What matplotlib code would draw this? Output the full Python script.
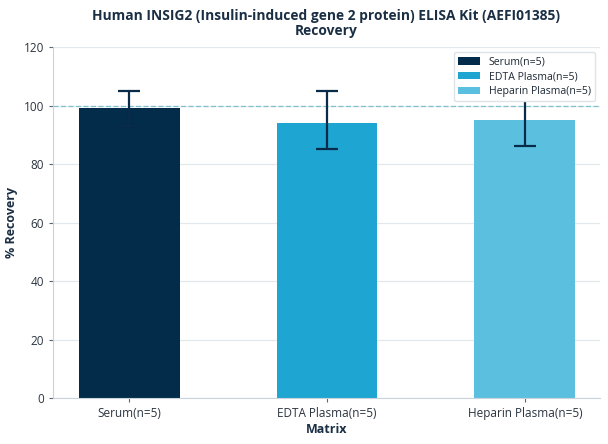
import numpy as np
import matplotlib.pyplot as plt

plt.rcParams['font.family'] = ['Open Sans', 'Noto Sans', 'DejaVu Sans']

matrices = ['Serum(n=5)', 'EDTA Plasma(n=5)', 'Heparin Plasma(n=5)']
recovery = [99, 94, 95]
err_low = [6, 9, 9]
err_high = [6, 11, 9]
colors = ['#022c4a', '#1fa5d2', '#5bc0e0']

fig = plt.figure(figsize=(6.08, 4.44), dpi=100)
ax = fig.add_axes([0.087, 0.1036, 0.9, 0.7904])

x = np.arange(len(matrices))
ax.set_axisbelow(True)
ax.yaxis.grid(True, color='#e3e8ec', linewidth=0.9)
ax.bar(x, recovery, width=0.51, color=colors, label=matrices, zorder=2)
ax.errorbar(x, recovery, yerr=[err_low, err_high], fmt='none', ecolor='#072b48',
            elinewidth=1.6, capsize=8, capthick=1.6, zorder=3)
ax.axhline(100, color='#7fc0cf', linestyle='--', linewidth=0.9, dashes=(4, 2), zorder=1)

ax.set_xlim(-0.385, 2.38)
ax.set_ylim(0, 120)
ax.set_yticks(range(0, 121, 20))
ax.set_xticks(x)
ax.set_xticklabels(matrices)
for s in ['top', 'right']:
    ax.spines[s].set_visible(False)
for s in ['left', 'bottom']:
    ax.spines[s].set_color('#c9d3db')
ax.tick_params(colors='#5a6570', labelcolor='#2b3440', labelsize=8.5, length=3)

ax.set_xlabel('Matrix', fontsize=9, fontweight='bold', color='#1a2e44', labelpad=2)
ax.set_ylabel('% Recovery', fontsize=9, fontweight='bold', color='#1a2e44')
ax.set_title('Human INSIG2 (Insulin-induced gene 2 protein) ELISA Kit (AEFI01385)\nRecovery',
             fontsize=9.9, fontweight='bold', color='#1a2e44', pad=9, linespacing=1.05)

leg = ax.legend(loc='upper right', fontsize=7.6, frameon=True, handlelength=2.1,
                labelspacing=0.35, borderaxespad=0.5, framealpha=1)
leg.get_frame().set_edgecolor('#dde3e8')
for t in leg.get_texts():
    t.set_color('#1e2a36')
leg.set_zorder(5)

fig.savefig('out.png', dpi=100)
